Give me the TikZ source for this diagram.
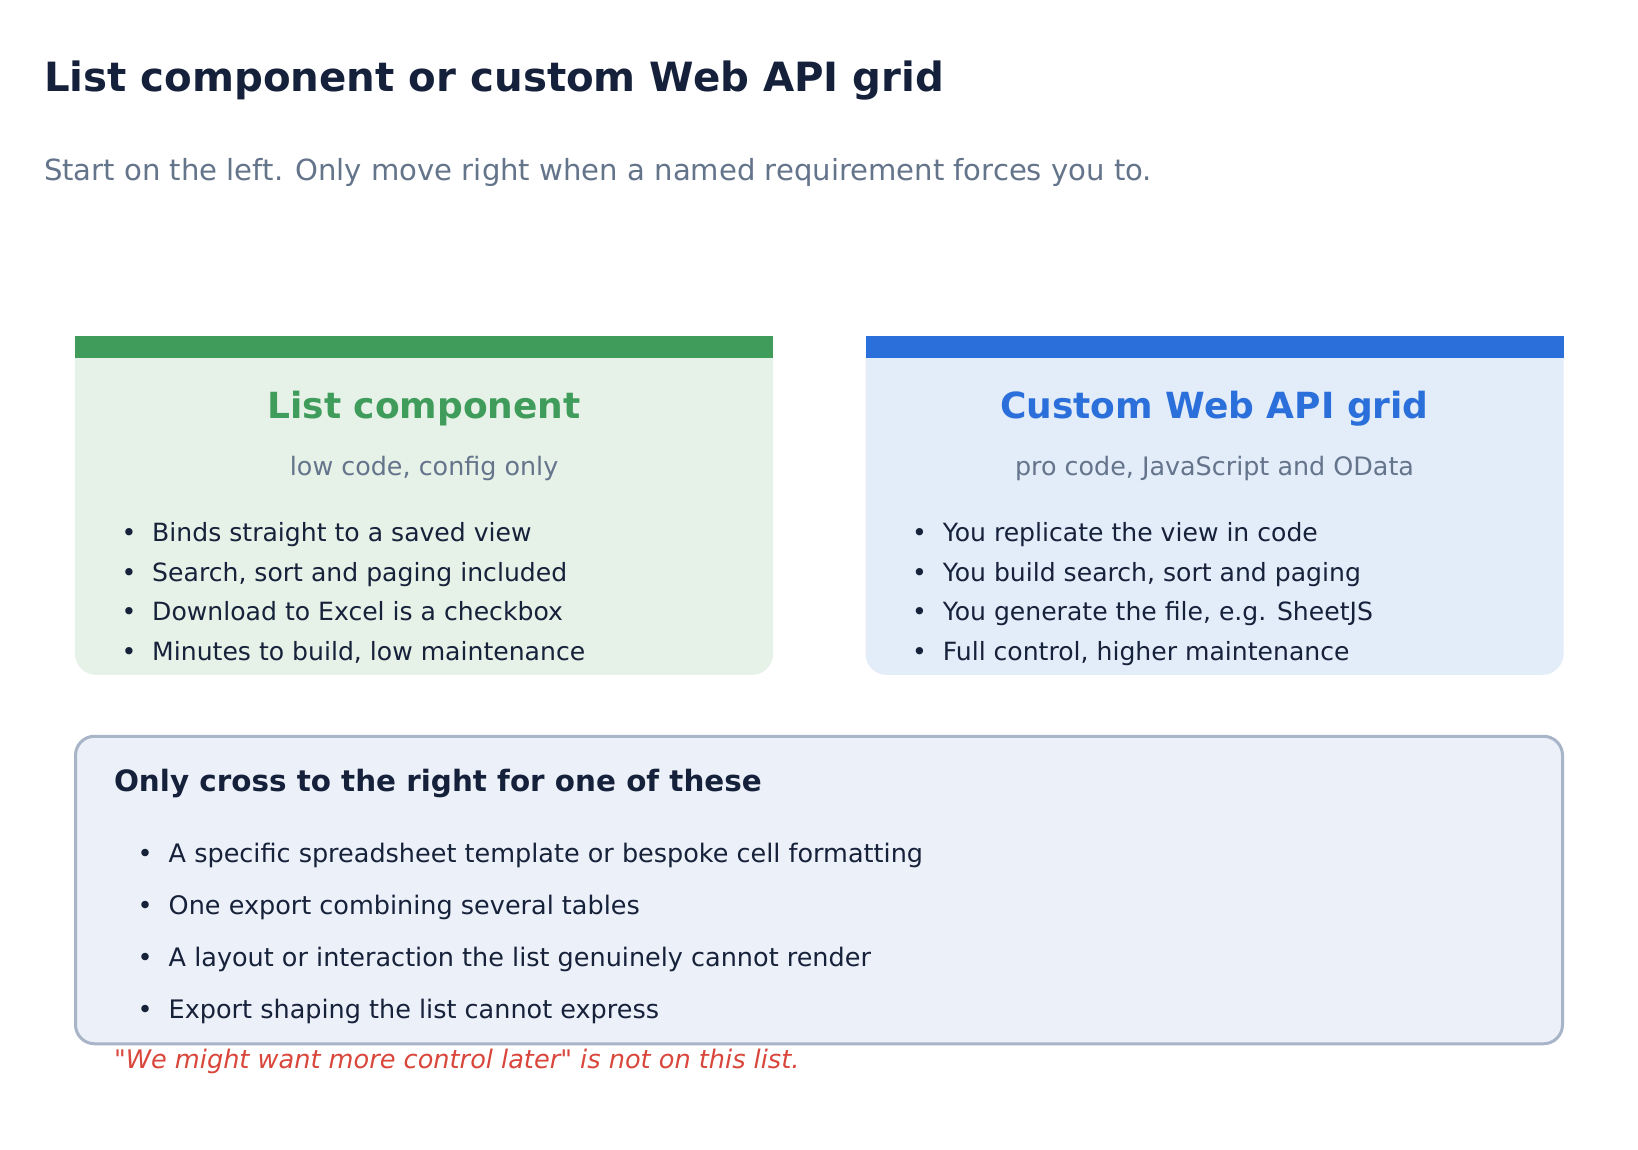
\documentclass[tikz,border=0pt]{standalone}
\usepackage{fontspec}
\setmainfont{DejaVu Sans}[Ligatures=TeXOff]
\definecolor{cTitle}{HTML}{15213B}
\definecolor{cGray}{HTML}{64748B}
\definecolor{cText}{HTML}{16213A}
\definecolor{cGreen}{HTML}{3F9C5A}
\definecolor{cGreenBg}{HTML}{E6F1E8}
\definecolor{cBlue}{HTML}{2B6FDB}
\definecolor{cBlueBg}{HTML}{E3ECF9}
\definecolor{cNoteBg}{HTML}{ECF0F8}
\definecolor{cNoteBd}{HTML}{A8B5C8}
\definecolor{cRed}{HTML}{D9463B}
\begin{document}
\begin{tikzpicture}[x=1pt,y=-1pt,
  every node/.style={inner sep=0pt, outer sep=0pt},
  maintitle/.style={anchor=base west, text=cTitle, font=\fontsize{40.3}{48}\selectfont\bfseries},
  subtitle/.style={anchor=base west, text=cGray, font=\fontsize{29.1}{35}\selectfont},
  cardbox/.style={rounded corners=21, minimum width=698, minimum height=338.5},
  cardbar/.style={anchor=north west, minimum width=698, minimum height=22},
  cardtitle/.style={anchor=base, font=\fontsize{36}{43}\selectfont\bfseries},
  cardsub/.style={anchor=base, text=cGray, font=\fontsize{25.4}{30}\selectfont},
  bullet/.style={anchor=base west, text=cText, font=\fontsize{25.1}{30}\selectfont},
  nbullet/.style={anchor=base west, text=cText, font=\fontsize{25.5}{30}\selectfont},
  notebox/.style={draw=cNoteBd, line width=3, fill=cNoteBg, rounded corners=19, minimum width=1487, minimum height=307.5},
  notehead/.style={anchor=base west, text=cTitle, font=\fontsize{29.4}{35}\selectfont\bfseries},
  warn/.style={anchor=base west, text=cRed, font=\fontsize{25.6}{30}\selectfont\itshape}
]
\path[use as bounding box, fill=white] (0,0) rectangle (1638,1150);

\node[maintitle] (title) at (44,92) {List component or custom Web API grid};
\node[subtitle] (sub) at (44,180.7) {Start on the left. Only move right when a named requirement forces you to.};

% left card
\node[cardbox, fill=cGreenBg] (lcard) at (424.1,505.6) {};
\node[cardbar, fill=cGreen] (lbar) at (75.1,336.4) {};
\node[cardtitle, text=cGreen] (ltitle) at (424.1,418) {List component};
\node[cardsub] (lsub) at (424.1,475) {low code, config only};
\node[bullet] (l1) at (121.5,541) {•\ \ Binds straight to a saved view};
\node[bullet] (l2) at (121.5,581) {•\ \ Search, sort and paging included};
\node[bullet] (l3) at (121.5,620.5) {•\ \ Download to Excel is a checkbox};
\node[bullet] (l4) at (121.5,660) {•\ \ Minutes to build, low maintenance};

% right card
\node[cardbox, fill=cBlueBg] (rcard) at (1214.5,505.6) {};
\node[cardbar, fill=cBlue] (rbar) at (865.5,336.4) {};
\node[cardtitle, text=cBlue] (rtitle) at (1214.5,418) {Custom Web API grid};
\node[cardsub] (rsub) at (1214.5,475) {pro code, JavaScript and OData};
\node[bullet] (r1) at (912,541) {•\ \ You replicate the view in code};
\node[bullet] (r2) at (912,581) {•\ \ You build search, sort and paging};
\node[bullet] (r3) at (912,620.5) {•\ \ You generate the file, e.g. SheetJS};
\node[bullet] (r4) at (912,660) {•\ \ Full control, higher maintenance};

% bottom note
\node[notebox] (note) at (819,890) {};
\node[notehead] (nhead) at (114,791) {Only cross to the right for one of these};
\node[nbullet] (n1) at (137.5,862) {•\ \ A specific spreadsheet template or bespoke cell formatting};
\node[nbullet] (n2) at (137.5,914) {•\ \ One export combining several tables};
\node[nbullet] (n3) at (137.5,966) {•\ \ A layout or interaction the list genuinely cannot render};
\node[nbullet] (n4) at (137.5,1018.5) {•\ \ Export shaping the list cannot express};
\node[warn] (warn) at (114,1068.6) {"We might want more control later" is not on this list.};
\end{tikzpicture}
\end{document}
